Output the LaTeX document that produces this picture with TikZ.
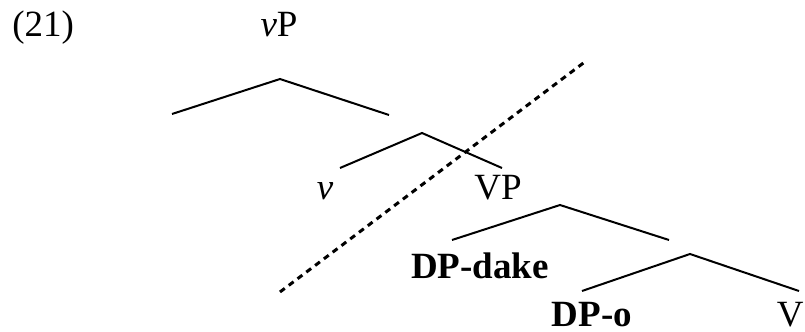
\documentclass[tikz,border=0pt]{standalone}
\usepackage{fontspec}
\setmainfont{Liberation Serif}

\begin{document}
\begin{tikzpicture}[x=0.5pt,y=-0.5pt,
    lbl/.style={inner sep=0pt,font=\fontsize{18.5}{22}\selectfont},
    branch/.style={line width=1pt},
    cut/.style={line width=1.5pt,dash pattern=on 3pt off 2.5pt}]
    \useasboundingbox (0,0) rectangle (805,332);

    % Labels
    \node[lbl,anchor=base west] (ex) at (12,37) {(21)};
    \node[lbl,anchor=base] (vP) at (279,37) {\textit{v}P};
    \node[lbl,anchor=base] (v) at (325,199) {\textit{v}};
    \node[lbl,anchor=base] (VP) at (498,199) {VP};
    \node[lbl,anchor=base] (dake) at (480,278) {\textbf{DP-dake}};
    \node[lbl,anchor=base] (o) at (592,326) {\textbf{DP-o}};
    \node[lbl,anchor=base east] (V) at (804,326) {V};

    % Branching points
    \coordinate (vP-top) at (280,79);
    \coordinate (vP-l) at (172,114);
    \coordinate (vP-r) at (389,115);
    \coordinate (vbar-top) at (422,133);
    \coordinate (vbar-l) at (340,168);
    \coordinate (vbar-r) at (502,168);
    \coordinate (VP-top) at (560,205);
    \coordinate (VP-l) at (452,240);
    \coordinate (VP-r) at (669,240);
    \coordinate (Vbar-top) at (690,254);
    \coordinate (Vbar-l) at (582,291);
    \coordinate (Vbar-r) at (799,291);

    % Tree
    \draw[branch] (vP-l) -- (vP-top) -- (vP-r);
    \draw[branch] (vbar-l) -- (vbar-top) -- (vbar-r);
    \draw[branch] (VP-l) -- (VP-top) -- (VP-r);
    \draw[branch] (Vbar-l) -- (Vbar-top) -- (Vbar-r);

    % Dotted cut
    \coordinate (cut-lo) at (280,292);
    \coordinate (cut-hi) at (586,61);
    \draw[cut] (cut-lo) -- (cut-hi);
\end{tikzpicture}
\end{document}
